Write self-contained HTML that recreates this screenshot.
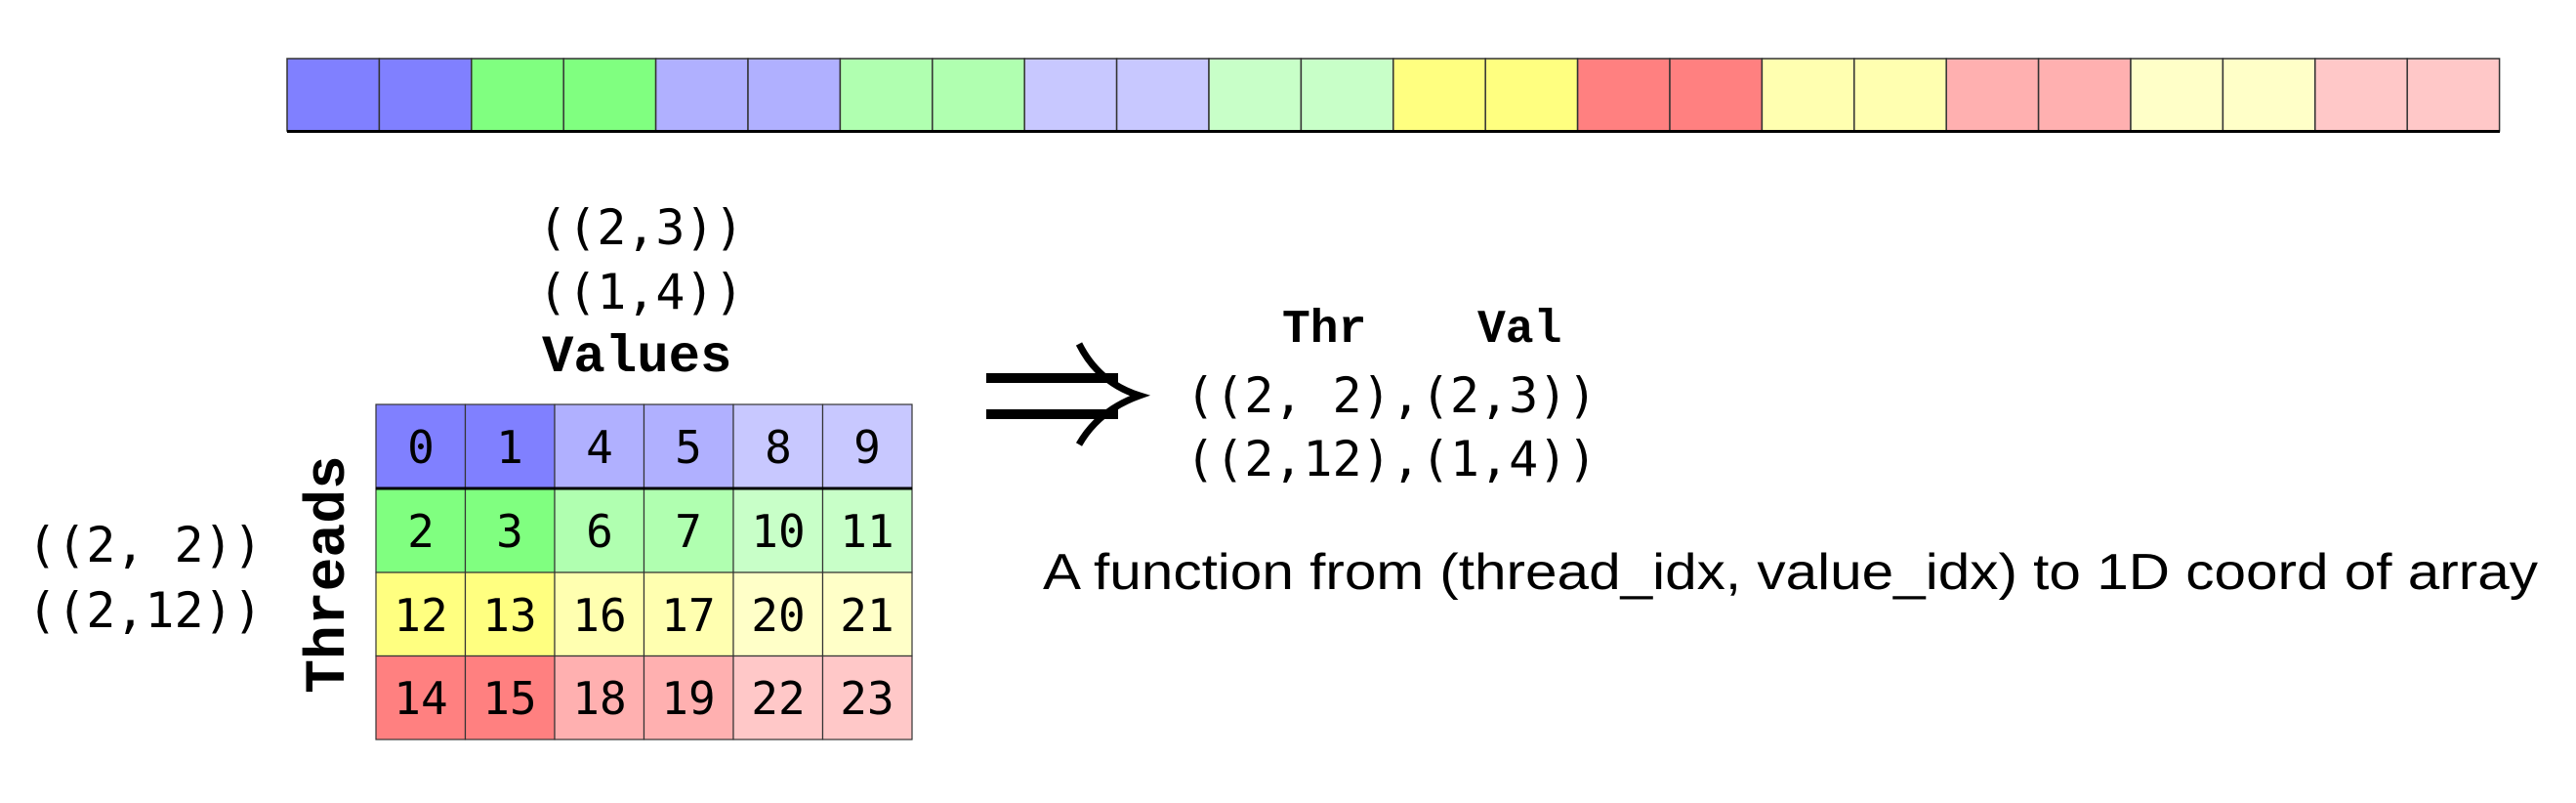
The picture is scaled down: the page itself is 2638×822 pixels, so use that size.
<!DOCTYPE html>
<html><head><meta charset="utf-8"><style>
html,body{margin:0;padding:0;background:#fff}
svg{display:block}
.m{font-family:"DejaVu Sans Mono","Liberation Mono",monospace;font-size:50px;font-weight:300}
.b{font-family:"Liberation Mono",monospace;font-weight:bold}
.n{font-family:"DejaVu Sans Mono",monospace;font-size:46px;text-anchor:middle}
</style></head><body>
<svg width="2638" height="822" viewBox="0 0 2638 822" xmlns="http://www.w3.org/2000/svg">
<g stroke="#333" stroke-width="1.5">
<rect x="294.0" y="60" width="94.4" height="74" fill="#8080ff"/>
<rect x="388.4" y="60" width="94.4" height="74" fill="#8080ff"/>
<rect x="482.8" y="60" width="94.4" height="74" fill="#80ff80"/>
<rect x="577.2" y="60" width="94.4" height="74" fill="#80ff80"/>
<rect x="671.6" y="60" width="94.4" height="74" fill="#b0b0ff"/>
<rect x="766.0" y="60" width="94.4" height="74" fill="#b0b0ff"/>
<rect x="860.4" y="60" width="94.4" height="74" fill="#b0ffb0"/>
<rect x="954.8" y="60" width="94.4" height="74" fill="#b0ffb0"/>
<rect x="1049.2" y="60" width="94.4" height="74" fill="#c8c8ff"/>
<rect x="1143.6" y="60" width="94.4" height="74" fill="#c8c8ff"/>
<rect x="1238.0" y="60" width="94.4" height="74" fill="#c8ffc8"/>
<rect x="1332.4" y="60" width="94.4" height="74" fill="#c8ffc8"/>
<rect x="1426.8" y="60" width="94.4" height="74" fill="#ffff80"/>
<rect x="1521.2" y="60" width="94.4" height="74" fill="#ffff80"/>
<rect x="1615.6" y="60" width="94.4" height="74" fill="#ff8080"/>
<rect x="1710.0" y="60" width="94.4" height="74" fill="#ff8080"/>
<rect x="1804.4" y="60" width="94.4" height="74" fill="#ffffb0"/>
<rect x="1898.8" y="60" width="94.4" height="74" fill="#ffffb0"/>
<rect x="1993.2" y="60" width="94.4" height="74" fill="#ffb0b0"/>
<rect x="2087.6" y="60" width="94.4" height="74" fill="#ffb0b0"/>
<rect x="2182.0" y="60" width="94.4" height="74" fill="#ffffc8"/>
<rect x="2276.4" y="60" width="94.4" height="74" fill="#ffffc8"/>
<rect x="2370.8" y="60" width="94.4" height="74" fill="#ffc8c8"/>
<rect x="2465.2" y="60" width="94.4" height="74" fill="#ffc8c8"/>
</g>
<line x1="294" y1="134.5" x2="2560" y2="134.5" stroke="#000" stroke-width="3"/>

<text class="m" x="551" y="250">((2,3))</text>
<text class="m" x="551" y="316">((1,4))</text>
<text class="b" x="555" y="380" font-size="54">Values</text>

<text class="m" x="28" y="575">((2, 2))</text>
<text class="m" x="28" y="642">((2,12))</text>
<text class="b" font-size="58" transform="translate(352,588) rotate(-90)" text-anchor="middle">Threads</text>

<g stroke="#333" stroke-width="1.2">
<rect x="385" y="414" width="91.5" height="86" fill="#8080ff"/><rect x="476.5" y="414" width="91.5" height="86" fill="#8080ff"/>
<rect x="568" y="414" width="91.5" height="86" fill="#b0b0ff"/><rect x="659.5" y="414" width="91.5" height="86" fill="#b0b0ff"/>
<rect x="751" y="414" width="91.5" height="86" fill="#c8c8ff"/><rect x="842.5" y="414" width="91.5" height="86" fill="#c8c8ff"/>
<rect x="385" y="500" width="91.5" height="86" fill="#80ff80"/><rect x="476.5" y="500" width="91.5" height="86" fill="#80ff80"/>
<rect x="568" y="500" width="91.5" height="86" fill="#b0ffb0"/><rect x="659.5" y="500" width="91.5" height="86" fill="#b0ffb0"/>
<rect x="751" y="500" width="91.5" height="86" fill="#c8ffc8"/><rect x="842.5" y="500" width="91.5" height="86" fill="#c8ffc8"/>
<rect x="385" y="586" width="91.5" height="85.5" fill="#ffff80"/><rect x="476.5" y="586" width="91.5" height="85.5" fill="#ffff80"/>
<rect x="568" y="586" width="91.5" height="85.5" fill="#ffffb0"/><rect x="659.5" y="586" width="91.5" height="85.5" fill="#ffffb0"/>
<rect x="751" y="586" width="91.5" height="85.5" fill="#ffffc8"/><rect x="842.5" y="586" width="91.5" height="85.5" fill="#ffffc8"/>
<rect x="385" y="671.5" width="91.5" height="85.5" fill="#ff8080"/><rect x="476.5" y="671.5" width="91.5" height="85.5" fill="#ff8080"/>
<rect x="568" y="671.5" width="91.5" height="85.5" fill="#ffb0b0"/><rect x="659.5" y="671.5" width="91.5" height="85.5" fill="#ffb0b0"/>
<rect x="751" y="671.5" width="91.5" height="85.5" fill="#ffc8c8"/><rect x="842.5" y="671.5" width="91.5" height="85.5" fill="#ffc8c8"/>
</g>
<line x1="385" y1="500" x2="934" y2="500" stroke="#000" stroke-width="3"/>
<g class="n">
<text x="431" y="474">0</text><text x="522" y="474">1</text><text x="614" y="474">4</text><text x="705" y="474">5</text><text x="797" y="474">8</text><text x="888" y="474">9</text>
<text x="431" y="560">2</text><text x="522" y="560">3</text><text x="614" y="560">6</text><text x="705" y="560">7</text><text x="797" y="560">10</text><text x="888" y="560">11</text>
<text x="431" y="646">12</text><text x="522" y="646">13</text><text x="614" y="646">16</text><text x="705" y="646">17</text><text x="797" y="646">20</text><text x="888" y="646">21</text>
<text x="431" y="731">14</text><text x="522" y="731">15</text><text x="614" y="731">18</text><text x="705" y="731">19</text><text x="797" y="731">22</text><text x="888" y="731">23</text>
</g>

<g fill="none" stroke="#000" stroke-linecap="butt">
<line x1="1010" y1="387" x2="1145" y2="387" stroke-width="10"/>
<line x1="1010" y1="424" x2="1145" y2="424" stroke-width="10"/>
<path d="M1105 352 Q1125 392 1167 405 Q1125 420 1105 455" stroke-width="7"/>
</g>

<text class="b" x="1313" y="350" font-size="48">Thr</text>
<text class="b" x="1513" y="350" font-size="48">Val</text>
<text class="m" x="1214" y="422">((2, 2),(2,3))</text>
<text class="m" x="1214" y="487">((2,12),(1,4))</text>

<text x="1068" y="603" font-family="Liberation Sans, sans-serif" font-size="52" textLength="1531" lengthAdjust="spacingAndGlyphs">A function from (thread_idx, value_idx) to 1D coord of array</text>
</svg>
</body></html>
